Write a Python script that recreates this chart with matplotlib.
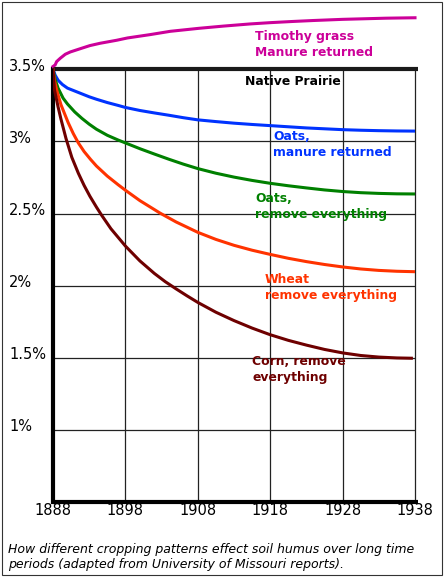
import matplotlib
matplotlib.use("Agg")
import matplotlib.pyplot as plt
from matplotlib.patches import Rectangle
from matplotlib.transforms import blended_transform_factory, ScaledTranslation

# Soil humus (%)
timothy_years = [1888, 1888.3, 1888.5, 1889, 1889.7, 1890.4, 1891.8, 1893.1, 1894.5, 1896.8,
                 1898.3, 1901.4, 1904.2, 1908.2, 1911.5, 1915.2, 1918, 1921, 1924, 1928,
                 1931, 1934, 1938]
timothy = [3.52, 3.531, 3.554, 3.577, 3.605, 3.621, 3.644, 3.665, 3.681, 3.702,
           3.718, 3.741, 3.764, 3.785, 3.80, 3.815, 3.824, 3.832, 3.839, 3.847,
           3.851, 3.855, 3.858]

oats_manure_years = [1888, 1888.3, 1888.7, 1889.3, 1890, 1891, 1892, 1893, 1894, 1895.5,
                     1897, 1898, 1900, 1902, 1904, 1906, 1908, 1910.5, 1913, 1915.5,
                     1918, 1920.5, 1923, 1925.5, 1928, 1930.5, 1933, 1935.5, 1938]
oats_manure = [3.50, 3.46, 3.425, 3.395, 3.37, 3.35, 3.33, 3.31, 3.293, 3.27,
               3.25, 3.236, 3.215, 3.198, 3.182, 3.165, 3.15, 3.138, 3.127, 3.118,
               3.11, 3.102, 3.094, 3.088, 3.082, 3.078, 3.075, 3.073, 3.072]

oats_remove_years = [1888, 1888.3, 1888.7, 1889.4, 1890, 1891, 1892, 1893, 1894, 1895.5,
                     1897, 1898, 1900, 1902, 1904, 1906, 1908, 1910.5, 1913, 1915.5,
                     1918, 1920.5, 1923, 1925.5, 1928, 1930.5, 1933, 1935.5, 1938]
oats_remove = [3.50, 3.43, 3.37, 3.30, 3.26, 3.205, 3.16, 3.12, 3.085, 3.043,
               3.01, 2.99, 2.95, 2.913, 2.877, 2.843, 2.812, 2.78, 2.753, 2.73,
               2.71, 2.693, 2.678, 2.664, 2.653, 2.645, 2.64, 2.637, 2.636]

wheat_years = [1888, 1888.2, 1888.6, 1889.1, 1890.1, 1890.8, 1891.5, 1892.3, 1893.2, 1894,
               1895.5, 1897, 1898, 1900, 1902.8, 1905, 1908, 1910.5, 1913, 1915.5,
               1918, 1920.5, 1923, 1925.5, 1928, 1930.5, 1933, 1935.5, 1938]
wheat = [3.50, 3.42, 3.34, 3.255, 3.13, 3.055, 2.99, 2.93, 2.875, 2.83,
         2.76, 2.70, 2.662, 2.59, 2.503, 2.442, 2.37, 2.321, 2.28, 2.246,
         2.217, 2.19, 2.167, 2.147, 2.13, 2.116, 2.106, 2.10, 2.097]

corn_years = [1888, 1888.2, 1888.7, 1889.1, 1889.8, 1890.6, 1891.5, 1892.3, 1893.1, 1894,
              1894.7, 1896, 1898, 1900, 1902, 1903.5, 1905, 1906.5, 1908, 1910.5,
              1913, 1915.5, 1918, 1920.5, 1923, 1925.5, 1928, 1930.5, 1933, 1935.5, 1937.5]
corn = [3.50, 3.36, 3.24, 3.155, 3.02, 2.89, 2.78, 2.695, 2.62, 2.545,
        2.49, 2.395, 2.275, 2.172, 2.085, 2.028, 1.978, 1.93, 1.884, 1.816,
        1.758, 1.706, 1.66, 1.621, 1.588, 1.558, 1.534, 1.516, 1.505, 1.499, 1.497]

prairie_years = [1888, 1938.4]
prairie = [3.5, 3.5]

x_ticks = [1888, 1898, 1908, 1918, 1928, 1938]
y_ticks = [3.5, 3.0, 2.5, 2.0, 1.5, 1.0]
y_labels = ["3.5%", "3%", "2.5%", "2%", "1.5%", "1%"]

magenta = "#CC0099"
blue = "#0033FF"
green = "#008000"
orange = "#FF3300"
darkred = "#6E0000"

W, H = 446, 579
fig = plt.figure(figsize=(W / 100, H / 100), dpi=100)
ax = fig.add_axes([53 / W, (H - 502) / H, (415 - 53) / W, (502 - 11.7) / H])
ax.set_xlim(1888, 1938)
ax.set_ylim(0.5, 3.9)

# grid
ax.vlines(x_ticks[1:], 0.5, 3.5, color="#222222", lw=0.9, zorder=1, clip_on=False)
ax.hlines(y_ticks[1:], 1888, 1938, color="#222222", lw=0.9, zorder=1)

lw = 2.2
ax.plot(timothy_years, timothy, color=magenta, lw=lw, zorder=3, clip_on=False)
ax.plot(prairie_years, prairie, color="#1a1a1a", lw=3.0, zorder=2, clip_on=False,
        solid_capstyle="butt")
ax.plot(oats_manure_years, oats_manure, color=blue, lw=lw, zorder=3)
ax.plot(oats_remove_years, oats_remove, color=green, lw=lw, zorder=3)
ax.plot(wheat_years, wheat, color=orange, lw=lw, zorder=3)
ax.plot(corn_years, corn, color=darkred, lw=lw, zorder=3)

# axes
for s in ["top", "right"]:
    ax.spines[s].set_visible(False)
ax.spines["left"].set_linewidth(3)
ax.spines["left"].set_bounds(0.5, 3.5)
ax.spines["bottom"].set_linewidth(3)
ax.spines["bottom"].set_bounds(1888, 1938.4)
ax.spines["bottom"].set_capstyle("butt")
ax.set_yticks([])
ax.set_xticks(x_ticks)
ax.set_xticklabels([str(x) for x in x_ticks], fontsize=10.5)
ax.tick_params(axis="x", length=0, pad=1)

# y labels, left aligned near the frame
trans = blended_transform_factory(fig.transFigure, ax.transData) + \
    ScaledTranslation(0, 3 / 100, fig.dpi_scale_trans)
for v, lab in zip(y_ticks, y_labels):
    ax.text(9 / W, v, lab, transform=trans, ha="left", va="center", fontsize=10.5)

# series labels
bold = dict(fontsize=8.9, fontweight="bold", va="baseline", ha="left")
def px(x, y):
    return ax.transData.inverted().transform(fig.transFigure.transform((x / W, 1 - y / H)))

def label(x, y, txt, color):
    xd, yd = px(x, y)
    ax.text(xd, yd, txt, color=color, clip_on=False, **bold)

label(255, 40, "Timothy grass", magenta)
label(255, 56, "Manure returned", magenta)
label(245, 85, "Native Prairie", "black")
label(273, 140, "Oats,", blue)
label(273, 156, "manure returned", blue)
label(255, 202, "Oats,", green)
label(255, 218, "remove everything", green)
label(265, 283, "Wheat", orange)
label(265, 299, "remove everything", orange)
label(252, 365, "Corn, remove", darkred)
label(252, 381, "everything", darkred)

# caption
fig.text(8 / W, 1 - 553 / H, "How different cropping patterns effect soil humus over long time",
         fontsize=9.0, style="italic", ha="left", va="baseline")
fig.text(8 / W, 1 - 568 / H, "periods (adapted from University of Missouri reports).",
         fontsize=9.0, style="italic", ha="left", va="baseline")

# outer border
fig.patches.append(Rectangle((1.5 / W, 4.5 / H), 440.5 / W, 573 / H, transform=fig.transFigure,
                             fill=False, edgecolor="#333333", lw=0.8))

fig.savefig("out.png", dpi=100)
